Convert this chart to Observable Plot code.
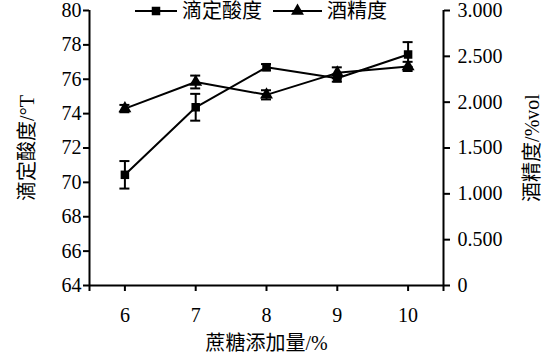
<!DOCTYPE html>
<html>
<head>
<meta charset="utf-8">
<script src="https://cdn.jsdelivr.net/npm/d3@7"></script>
<script src="https://cdn.jsdelivr.net/npm/@observablehq/plot@0.6"></script>
<style>
  body { margin: 0; background: #fff; }
  #wrap { position: relative; width: 559px; height: 354px; }
  #legend { position: absolute; left: 0; top: 0; }
</style>
</head>
<body>
<div id="wrap"></div>
<script>
// ---- data ----
const sugar = [6, 7, 8, 9, 10];
const acidity = [70.44, 74.37, 76.70, 76.06, 77.44];
const acidityErr = [0.80, 0.78, 0.18, 0.20, 0.72];
const alcohol = [1.93, 2.22, 2.08, 2.32, 2.39];
const alcoholErr = [0.04, 0.07, 0.05, 0.06, 0.05];
const xTicks = [5.5, 6, 7, 8, 9, 10, 10.5];
const leftTicks = [64, 66, 68, 70, 72, 74, 76, 78, 80];
const rightTicks = [0, 0.5, 1, 1.5, 2, 2.5, 3];
const rightTickLabels = ["0", "0.500", "1.000", "1.500", "2.000", "2.500", "3.000"];
const legendLabels = ["滴定酸度", "酒精度"];
const xLabel = "蔗糖添加量/%";
const leftLabel = "滴定酸度/°T";
const rightLabel = "酒精度/%vol";

const leftDomain = [64, 80];
const rightDomain = [0, 3];
const toLeft = a => leftDomain[0] + (a - rightDomain[0]) * (leftDomain[1] - leftDomain[0]) / (rightDomain[1] - rightDomain[0]);

const acidRows = sugar.map((x, i) => ({x, y: acidity[i], lo: acidity[i] - acidityErr[i], hi: acidity[i] + acidityErr[i]}));
const alcRows = sugar.map((x, i) => ({x, y: toLeft(alcohol[i]), lo: toLeft(alcohol[i] - alcoholErr[i]), hi: toLeft(alcohol[i] + alcoholErr[i])}));

const font = "'Liberation Serif', 'Noto Sans CJK SC', serif";

function errorMarks(rows) {
  return [
    Plot.ruleX(rows, {x: "x", y1: "lo", y2: "hi", stroke: "#000", strokeWidth: 2}),
    Plot.ruleY(rows, {x1: "x", x2: "x", y: "hi", stroke: "#000", strokeWidth: 2, insetLeft: -5, insetRight: -5}),
    Plot.ruleY(rows, {x1: "x", x2: "x", y: "lo", stroke: "#000", strokeWidth: 2, insetLeft: -5, insetRight: -5})
  ];
}

const chart = Plot.plot({
  width: 559,
  height: 354,
  marginLeft: 89,
  marginRight: 116,
  marginTop: 10,
  marginBottom: 69,
  style: {fontFamily: font, fontSize: "20px", color: "#000", background: "#fff", overflow: "visible"},
  x: {domain: [5.5, 10.5]},
  y: {domain: leftDomain},
  marks: [
    Plot.ruleX([5.5, 10.5], {stroke: "#000", strokeWidth: 2}),
    Plot.ruleY([64], {stroke: "#000", strokeWidth: 2}),
    Plot.axisX({ticks: xTicks, tickFormat: d => Number.isInteger(d) ? String(d) : "", tickSize: 6, tickPadding: 16, strokeWidth: 2,
      label: xLabel, labelAnchor: "center", labelArrow: "none", labelOffset: 64, fontSize: 20}),
    Plot.axisY({ticks: leftTicks, tickSize: 6, tickPadding: 2, strokeWidth: 2,
      label: leftLabel, labelAnchor: "center", labelArrow: "none", labelOffset: 70, fontSize: 20}),
    Plot.axisY({anchor: "right", ticks: rightTicks.map(toLeft), tickSize: 6, tickPadding: 8, strokeWidth: 2,
      tickFormat: d => rightTickLabels[rightTicks.findIndex(t => Math.abs(toLeft(t) - d) < 1e-6)],
      label: rightLabel, labelAnchor: "center", labelArrow: "none", labelOffset: 95, fontSize: 20}),
    Plot.line(acidRows, {x: "x", y: "y", stroke: "#000", strokeWidth: 2}),
    Plot.line(alcRows, {x: "x", y: "y", stroke: "#000", strokeWidth: 2}),
    ...errorMarks(acidRows),
    ...errorMarks(alcRows),
    Plot.dot(acidRows, {x: "x", y: "y", symbol: "square", r: 4.8, fill: "#000", stroke: "none"}),
    Plot.dot(alcRows, {x: "x", y: "y", symbol: "triangle", r: 4.8, fill: "#000", stroke: "none"})
  ]
});

const wrap = document.getElementById("wrap");
wrap.appendChild(chart);

// ---- legend (overlaid at the top, as in the reference) ----
const leg = d3.select(wrap).append("svg").attr("id", "legend").attr("width", 559).attr("height", 26)
  .style("font-family", font).style("font-size", "20px");
const items = [
  {x1: 135, x2: 177, sym: d3.symbolSquare, tx: 182},
  {x1: 273, x2: 322, sym: d3.symbolTriangle, tx: 327}
];
items.forEach((it, i) => {
  const g = leg.append("g");
  g.append("line").attr("x1", it.x1).attr("x2", it.x2).attr("y1", 11).attr("y2", 11).attr("stroke", "#000").attr("stroke-width", 2);
  g.append("path").attr("d", d3.symbol(it.sym, Math.PI * 4.8 * 4.8)()).attr("transform", `translate(${(it.x1 + it.x2) / 2},11)`).attr("fill", "#000");
  g.append("text").attr("x", it.tx).attr("y", 11).attr("dy", "0.35em").attr("fill", "#000").text(legendLabels[i]);
});
</script>
</body>
</html>
